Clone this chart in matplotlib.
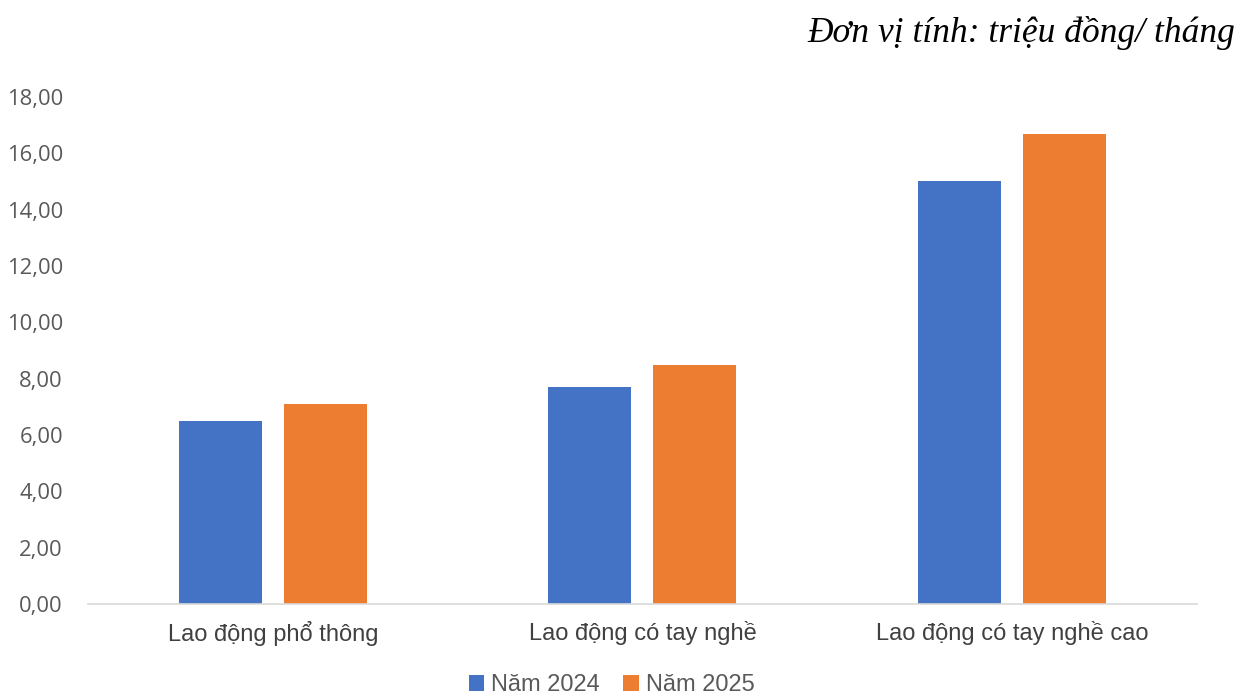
import matplotlib
matplotlib.use("Agg")
import matplotlib.pyplot as plt
import numpy as np
from matplotlib.ticker import FuncFormatter

categories = ["Lao động phổ thông", "Lao động có tay nghề", "Lao động có tay nghề cao"]
series_names = ["Năm 2024", "Năm 2025"]
values_2024 = [6.50, 7.70, 15.02]
values_2025 = [7.10, 8.48, 16.68]
colors = ["#4472C4", "#ED7D31"]

fig = plt.figure(figsize=(12.48, 6.95), dpi=100)
ax = fig.add_axes([0.0705, 0.1309, 0.8885, 0.7295])

x = np.arange(len(categories))
w = 0.2245
off = (w + 0.06) / 2
ax.bar(x - off, values_2024, w, color=colors[0], label=series_names[0])
ax.bar(x + off, values_2025, w, color=colors[1], label=series_names[1])

ax.set_xlim(-0.5, 2.5)
ax.set_ylim(0, 18)
ax.set_yticks(np.arange(0, 18.01, 2))
ax.yaxis.set_major_formatter(FuncFormatter(lambda v, p: f"{v:.2f}".replace(".", ",")))
ax.set_xticks(x)
ax.set_xticklabels(categories, fontsize=17, color="#404040", family="Liberation Sans")
for lab in ax.get_yticklabels():
    lab.set_fontsize(15.8)
    lab.set_color("#595959")
    lab.set_family("Open Sans")

for s in ["top", "right", "left"]:
    ax.spines[s].set_visible(False)
ax.spines["bottom"].set_color("#D9D9D9")
ax.spines["bottom"].set_linewidth(1.2)
ax.tick_params(axis="both", length=0)
ax.tick_params(axis="x", pad=12)
ax.tick_params(axis="y", pad=18)

fig.text(0.990, 0.952, "Đơn vị tính: triệu đồng/ tháng", ha="right", va="center",
         fontsize=25.5, style="italic", family="Liberation Serif")

leg = fig.legend(loc="center", bbox_to_anchor=(0.49, 0.014), ncol=2, frameon=False,
                 prop={"family": "Liberation Sans", "size": 17},
                 handlelength=0.65, handleheight=0.65, handletextpad=0.3, columnspacing=1.0)
for t in leg.get_texts():
    t.set_color("#595959")

fig.savefig("out.png", dpi=100)
